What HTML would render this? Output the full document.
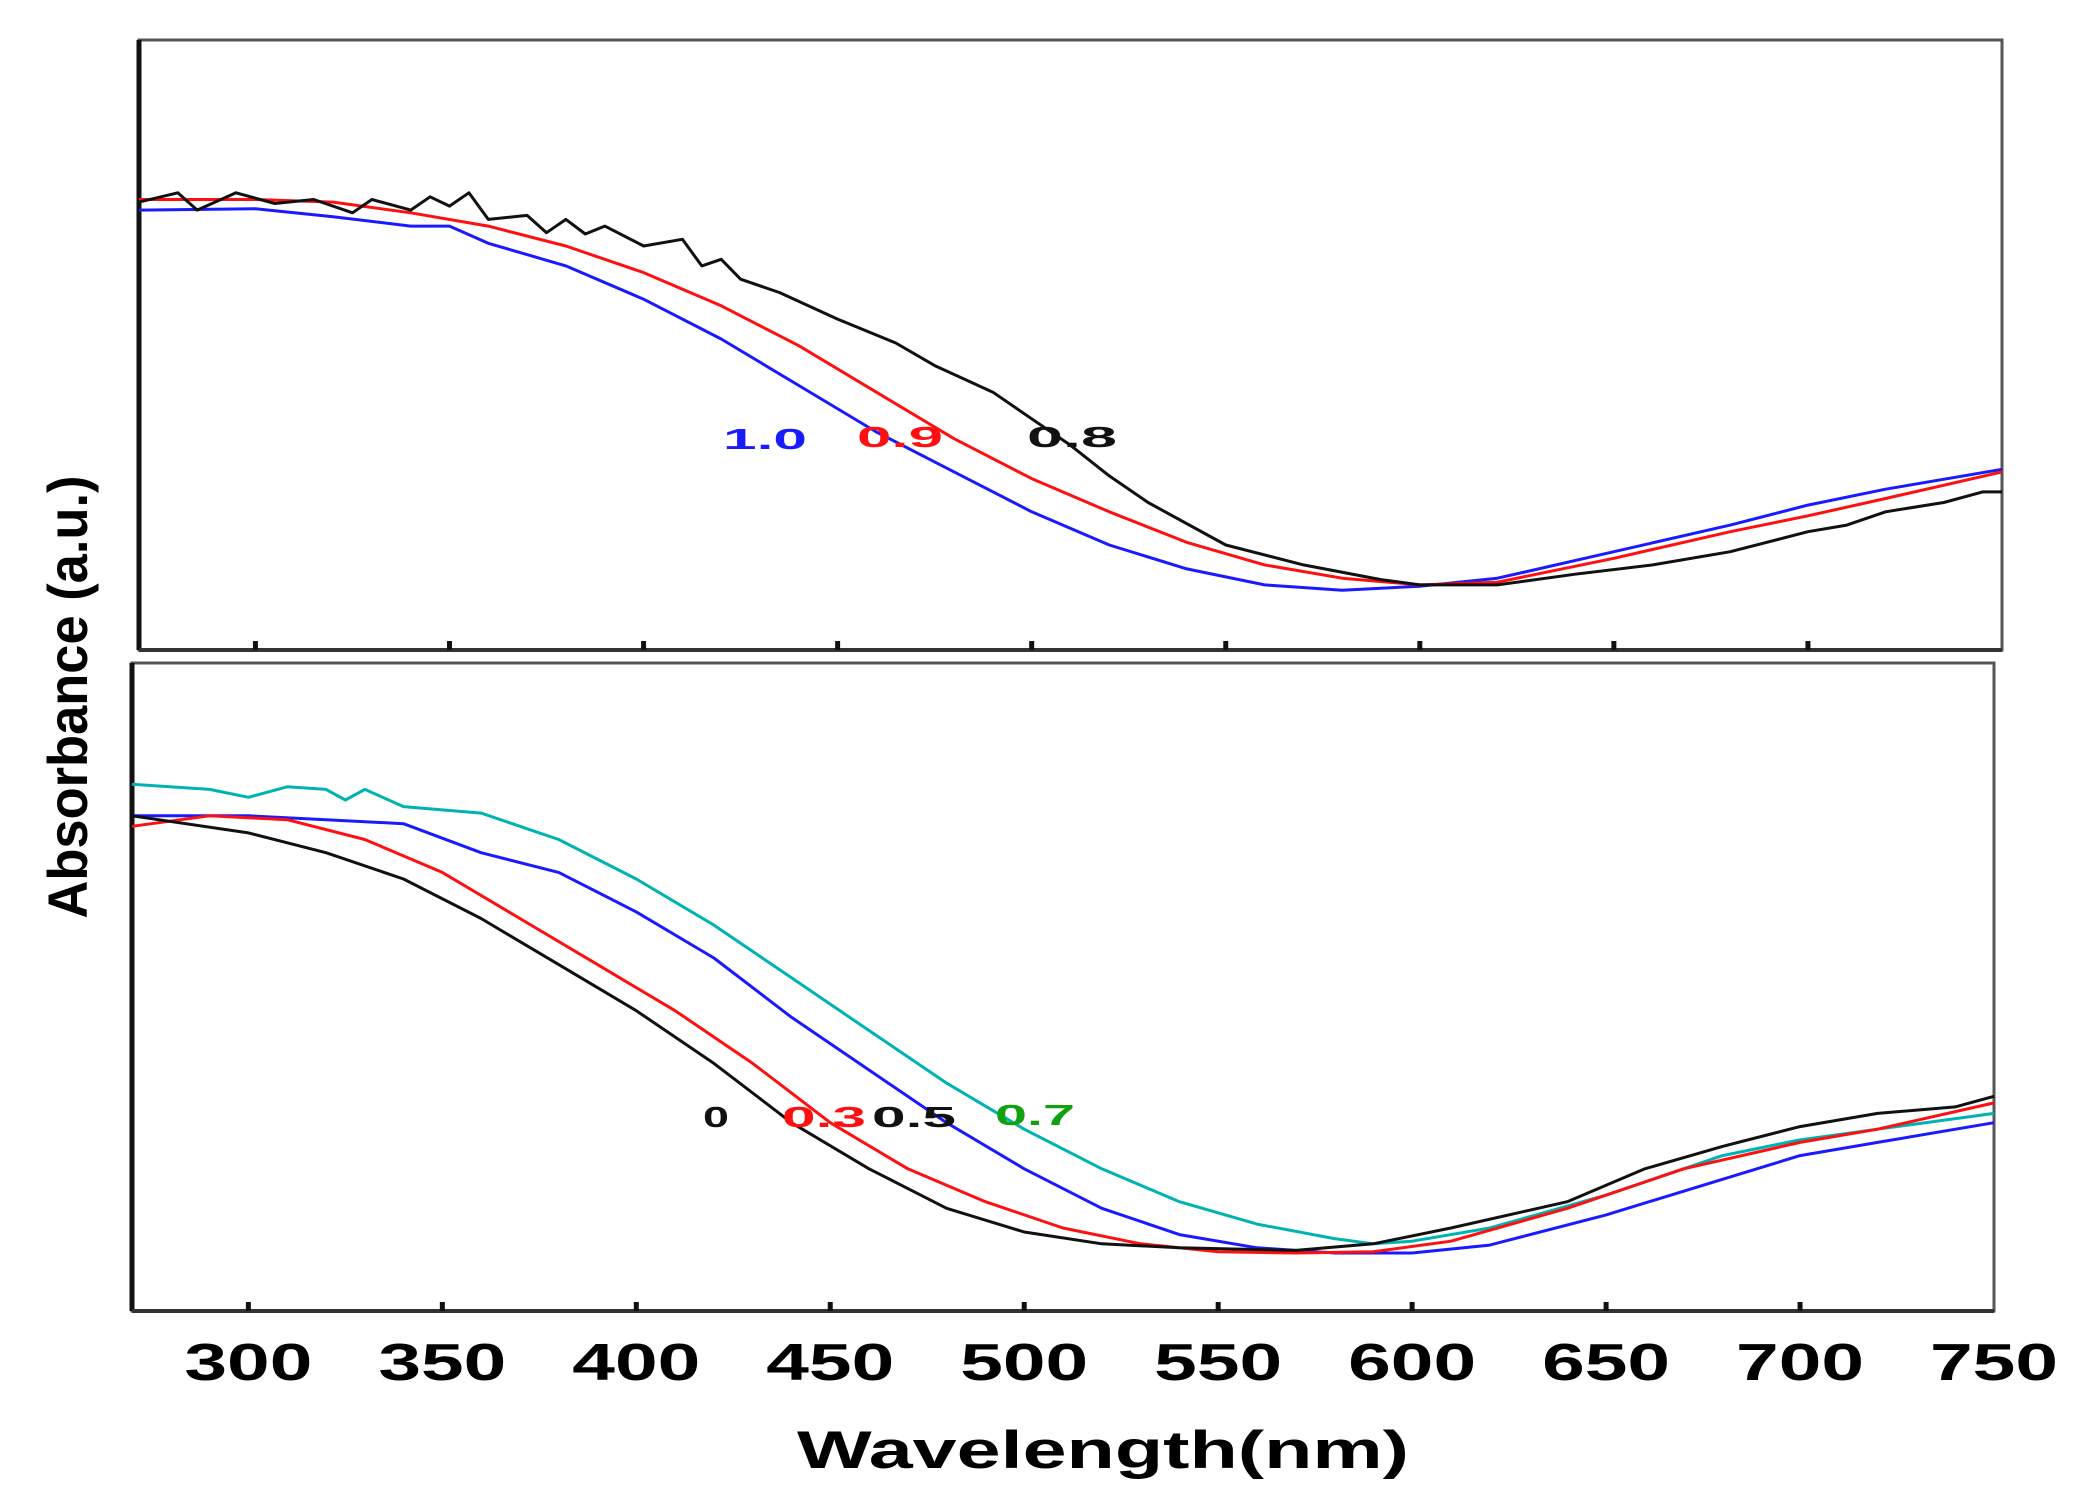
<!DOCTYPE html>
<html><head><meta charset="utf-8"><style>
html,body{margin:0;padding:0;background:#fff;}
svg{display:block;font-family:"Liberation Sans",Arial,sans-serif;font-weight:bold;}
</style></head><body>
<svg id="chart" width="2085" height="1490" viewBox="0 0 2085 1490" xmlns="http://www.w3.org/2000/svg">
<g id="top-panel"></g>
<g id="bottom-panel"></g>
<g id="x-ticks"></g>
<text x="1103" y="1468" text-anchor="middle" font-size="53" textLength="612" lengthAdjust="spacingAndGlyphs">Wavelength(nm)</text>
<text transform="translate(87,697) rotate(-90)" text-anchor="middle" font-size="56" textLength="443" lengthAdjust="spacingAndGlyphs">Absorbance (a.u.)</text>
</svg>
<script>
const tickValues = [300,350,400,450,500,550,600,650,700,750];
const tickLabels = ["300","350","400","450","500","550","600","650","700","750"];

const topBlackW = [270,280,285,295,305,315,325,330,340,345,350,355,360,370,375,380,385,390,400,410,415,420,425,435,450,465,475,490,500,510,520,530,550,570,590,600,620,640,660,680,700,710,720,735,745,750];
const topBlackV = [337,344,331,344,336,339,329,339,331,341,334,344,324,327,314,324,313,319,304,309,289,294,279,269,249,231,214,194,174,154,131,111,79,64,53,49,49,57,64,74,89,94,104,111,119,119];
const topRedW = [270,300,320,340,360,380,400,420,440,460,480,500,520,540,560,580,600,620,650,680,700,720,750];
const topRedV = [339,339,337,329,319,304,284,259,229,194,159,129,104,81,64,54,49,51,69,89,101,114,134];
const topBlueW = [270,300,320,340,350,360,380,400,420,440,460,480,500,520,540,560,580,600,620,650,680,700,720,750];
const topBlueV = [331,332,326,319,319,306,289,264,234,199,164,134,104,79,61,49,45,48,54,74,94,109,121,136];

const botCyanW = [270,290,300,310,320,325,330,340,360,380,400,420,440,460,480,500,520,540,560,580,590,600,620,650,680,700,720,750];
const botCyanV = [400,396,390,398,396,388,396,383,378,358,328,293,253,213,173,138,108,83,66,55,51,53,63,88,118,130,138,150];
const botBlueW = [270,300,320,340,360,380,400,420,440,460,480,500,520,540,560,580,600,620,650,680,700,720,750];
const botBlueV = [376,376,373,370,348,333,303,268,223,183,143,108,78,58,48,44,44,50,73,100,118,128,143];
const botRedW = [270,290,310,330,350,370,390,410,430,450,470,490,510,530,550,570,590,610,640,670,700,720,750];
const botRedV = [368,376,373,358,333,298,263,228,188,143,108,83,63,51,45,44,45,53,78,108,128,138,158];
const botBlackW = [270,300,320,340,360,380,400,420,440,460,480,500,520,540,570,590,610,640,660,680,700,720,740,750];
const botBlackV = [376,363,348,328,298,263,228,188,143,108,78,60,51,48,46,51,63,83,108,125,140,150,155,163];

const NS = "http://www.w3.org/2000/svg";
function mk(tag, attrs, parent){const e=document.createElementNS(NS,tag);for(const k in attrs)e.setAttribute(k,attrs[k]);parent.appendChild(e);return e;}

function panel(g, left, right, top, bottom, ymax, series, labels){
  const xs = w => left + (w-270)/(750-270)*(right-left);
  const ys = v => bottom - v/ymax*(bottom-top);
  const fr = mk('rect',{x:left,y:top,width:right-left,height:bottom-top,fill:'none',stroke:'#555','stroke-width':3},g);
  
  
  const la = mk('line',{x1:left,y1:top,x2:left,y2:bottom,stroke:'#111','stroke-width':5},g);
  
  
  const ba = mk('line',{x1:left,y1:bottom,x2:right,y2:bottom,stroke:'#333','stroke-width':4},g);
  
  
  tickValues.slice(0,-1).forEach(t=>{
    const tk = mk('line',{x1:xs(t),y1:bottom,x2:xs(t),y2:bottom-9,stroke:'#111','stroke-width':5},g);
    
    
  });
  series.forEach(s=>{
    const d = s.w.map((w,i)=>(i?'L':'M')+xs(w).toFixed(1)+' '+ys(s.v[i]).toFixed(1)).join(' ');
    const p = mk('path',{d:d,fill:'none',stroke:s.c,'stroke-width':3,'stroke-linejoin':'round'},g);
    
    
  });
  labels.forEach(l=>{
    const t = mk('text',{x:l.x,y:l.y,fill:l.c,'font-size':29,textLength:l.len,lengthAdjust:'spacingAndGlyphs'},g);
    t.textContent = l.t;
    
    
  });
}

panel(document.getElementById('top-panel'),139,2002,40,650,459,[
  {w:topBlueW,v:topBlueV,c:'#1a1aff',n:'series-1.0'},
  {w:topRedW,v:topRedV,c:'#ff1010',n:'series-0.9'},
  {w:topBlackW,v:topBlackV,c:'#111',n:'series-0.8'}
],[
  {t:'1.0',x:723,y:449,c:'#1a1aff',len:84},
  {t:'0.9',x:857,y:447,c:'#ff1010',len:86},
  {t:'0.8',x:1027,y:447,c:'#111',len:90}
]);

panel(document.getElementById('bottom-panel'),132,1994,663,1311,492,[
  {w:botCyanW,v:botCyanV,c:'#00b3b3',n:'series-0.7'},
  {w:botBlueW,v:botBlueV,c:'#1a1aff',n:'series-0.5'},
  {w:botRedW,v:botRedV,c:'#ff1010',n:'series-0.3'},
  {w:botBlackW,v:botBlackV,c:'#111',n:'series-0'}
],[
  {t:'0',x:703,y:1127,c:'#111',len:26},
  {t:'0.3',x:782,y:1127,c:'#ff1010',len:84},
  {t:'0.5',x:872,y:1127,c:'#111',len:84},
  {t:'0.7',x:995,y:1125,c:'#10a010',len:80}
]);

const tg = document.getElementById('x-ticks');
tickValues.forEach((t,i)=>{
  const x = 132 + (t-270)/480*(1994-132);
  const el = mk('text',{x:x,y:1380,'text-anchor':'middle','font-size':52,textLength:128,lengthAdjust:'spacingAndGlyphs'},tg);
  el.textContent = tickLabels[i];
  
  
});
</script>
</body></html>
